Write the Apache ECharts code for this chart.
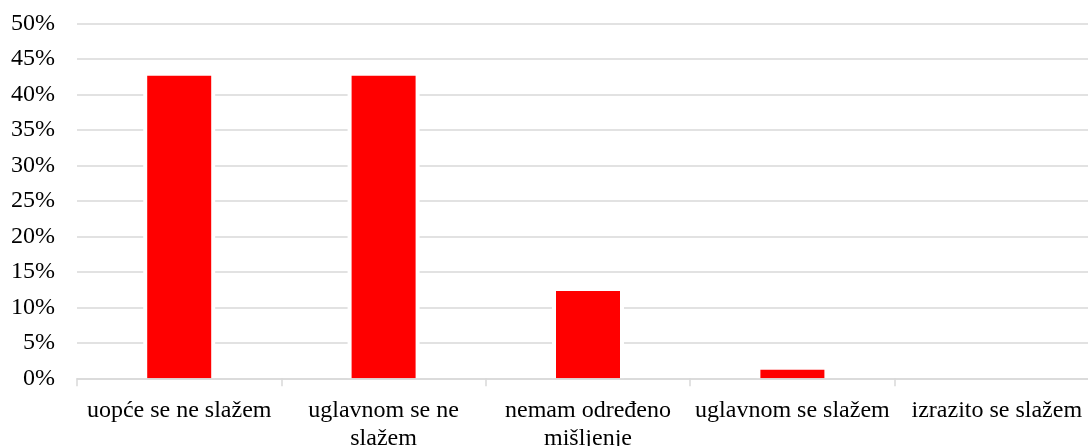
<!DOCTYPE html>
<html>
<head>
<meta charset="utf-8">
<script src="https://cdn.jsdelivr.net/npm/echarts@6/dist/echarts.min.js"></script>
<style>
  html, body { margin: 0; padding: 0; background: #fff; }
  #chart { width: 1088px; height: 446px; }
</style>
</head>
<body>
<div id="chart"></div>
<script>
// Answer categories (Croatian Likert scale) and share of responses in percent
const categories = [
  'uopće se ne slažem',
  'uglavnom se ne\nslažem',
  'nemam određeno\nmišljenje',
  'uglavnom se slažem',
  'izrazito se slažem'
];
const shares = [42.6, 42.6, 12.3, 1.2, 0];
const yTicks = { min: 0, max: 50, interval: 5 };

const font = '"Liberation Serif", "Times New Roman", serif';
const gridGray = '#d9d9d9';

const chart = echarts.init(document.getElementById('chart'), null, { renderer: 'canvas' });
chart.setOption({
  animation: false,
  backgroundColor: '#ffffff',
  grid: {
    left: 77, width: 1022, top: 23.3, bottom: 67.7,
    containLabel: false,
    outerBoundsMode: 'none'
  },
  xAxis: [
    {
      type: 'category',
      data: categories,
      z: 3,
      boundaryGap: true,
      axisLine: { show: true, lineStyle: { color: gridGray, width: 1.5 } },
      axisTick: { show: true, alignWithLabel: false, length: 8, lineStyle: { color: gridGray, width: 1.5 } },
      axisLabel: {
        interval: 0,
        margin: 18,
        color: '#000',
        fontFamily: font,
        fontSize: 24,
        lineHeight: 28
      },
      splitLine: { show: false }
    },
    {
      // companion axis for the white halo drawn behind each bar
      type: 'category',
      data: categories,
      show: false,
      position: 'bottom'
    }
  ],
  yAxis: {
    type: 'value',
    min: yTicks.min,
    max: yTicks.max,
    interval: yTicks.interval,
    axisLine: { show: false },
    axisTick: { show: false },
    axisLabel: {
      formatter: '{value}%',
      margin: 22,
      color: '#000',
      fontFamily: font,
      fontSize: 24
    },
    splitLine: { show: true, lineStyle: { color: gridGray, width: 1.5 } }
  },
  series: [
    {
      type: 'bar',
      xAxisIndex: 1,
      data: shares,
      barWidth: 72,
      z: 1,
      silent: true,
      itemStyle: { color: '#ffffff' }
    },
    {
      type: 'bar',
      xAxisIndex: 0,
      data: shares,
      barWidth: 64,
      z: 2,
      itemStyle: { color: '#ff0000' }
    }
  ]
});
</script>
</body>
</html>
